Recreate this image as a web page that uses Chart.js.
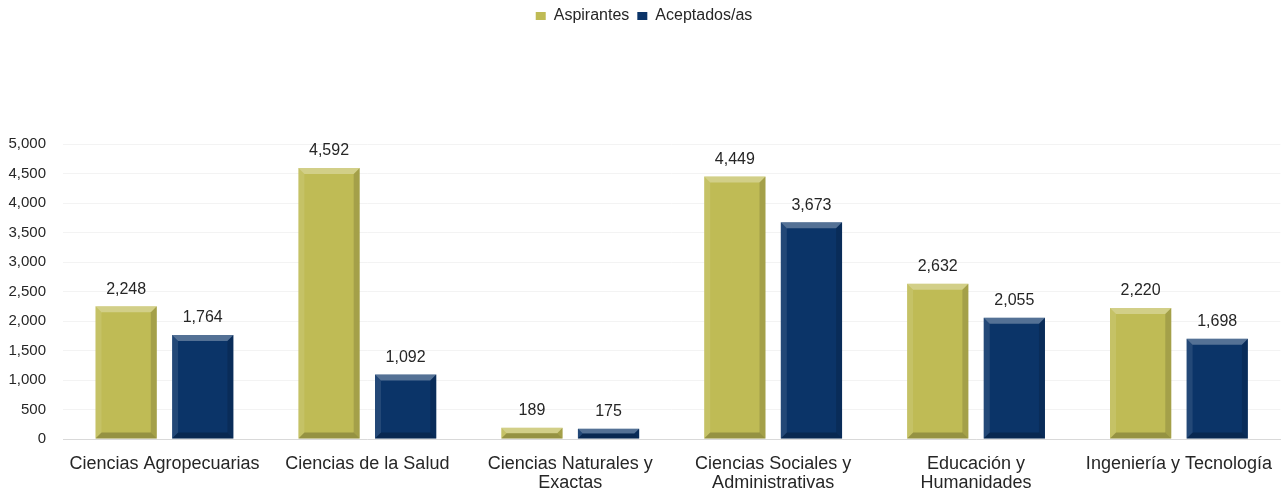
<!DOCTYPE html>
<html>
<head>
<meta charset="utf-8">
<script src="https://cdn.jsdelivr.net/npm/chart.js@4"></script>
<style>
  html, body { margin: 0; padding: 0; background: #fff; }
  #wrap { width: 1288px; height: 493px; }
</style>
</head>
<body>
<div id="wrap"><canvas id="grafica"></canvas></div>
<script>
// Datos de la gráfica
const categorias = [
    'Ciencias Agropecuarias',
    'Ciencias de la Salud',
    ['Ciencias Naturales y', 'Exactas'],
    ['Ciencias Sociales y', 'Administrativas'],
    ['Educación y', 'Humanidades'],
    'Ingeniería y Tecnología'
];
const aspirantes = [2248, 4592, 189, 4449, 2632, 2220];
const aceptados = [1764, 1092, 175, 3673, 2055, 1698];
const ticksY = [0, 500, 1000, 1500, 2000, 2500, 3000, 3500, 4000, 4500, 5000];

const colores = {
    aspirantes: '#bfbb55',
    aceptados: '#0b3468'
};

const fuente = "'Liberation Sans', Arial, sans-serif";
const fmt = new Intl.NumberFormat('en-US');

// Efecto de bisel sobre cada barra
const biselPlugin = {
    id: 'bisel',
    afterDatasetsDraw(chart) {
        const ctx = chart.ctx;
        chart.data.datasets.forEach((ds, i) => {
            const meta = chart.getDatasetMeta(i);
            meta.data.forEach(bar => {
                const l = bar.x - bar.width / 2, r = bar.x + bar.width / 2;
                const t = bar.y, b = bar.base;
                const d = Math.min(6, (b - t) / 2);
                ctx.save();
                // arriba claro
                ctx.fillStyle = 'rgba(255,255,255,0.3)';
                ctx.beginPath();
                ctx.moveTo(l, t); ctx.lineTo(r, t); ctx.lineTo(r - d, t + d); ctx.lineTo(l + d, t + d);
                ctx.fill();
                // izquierda
                ctx.fillStyle = 'rgba(255,255,255,0.1)';
                ctx.beginPath();
                ctx.moveTo(l, t); ctx.lineTo(l + d, t + d); ctx.lineTo(l + d, b - d); ctx.lineTo(l, b);
                ctx.fill();
                // derecha oscura
                ctx.fillStyle = 'rgba(0,0,0,0.14)';
                ctx.beginPath();
                ctx.moveTo(r, t); ctx.lineTo(r - d, t + d); ctx.lineTo(r - d, b - d); ctx.lineTo(r, b);
                ctx.fill();
                // abajo oscura
                ctx.fillStyle = 'rgba(0,0,0,0.22)';
                ctx.beginPath();
                ctx.moveTo(l, b); ctx.lineTo(r, b); ctx.lineTo(r - d, b - d); ctx.lineTo(l + d, b - d);
                ctx.fill();
                ctx.restore();
            });
        });
    }
};

// Etiquetas de valor encima de las barras
const etiquetasPlugin = {
    id: 'etiquetas',
    afterDatasetsDraw(chart) {
        const ctx = chart.ctx;
        ctx.save();
        ctx.font = '16px ' + fuente;
        ctx.fillStyle = '#262626';
        ctx.textAlign = 'center';
        ctx.textBaseline = 'middle';
        chart.data.datasets.forEach((ds, i) => {
            chart.getDatasetMeta(i).data.forEach((bar, j) => {
                ctx.fillText(fmt.format(ds.data[j]), bar.x, bar.y - 17);
            });
        });
        ctx.restore();
    }
};

// Alto fijo de la leyenda para dejar el hueco de arriba
const espacioLeyenda = {
    id: 'espacioLeyenda',
    beforeInit(chart) {
        const fitOriginal = chart.legend.fit;
        chart.legend.fit = function () {
            fitOriginal.call(this);
            this.height = 144;
        };
    }
};

new Chart(document.getElementById('grafica'), {
    type: 'bar',
    data: {
        labels: categorias,
        datasets: [
            {
                label: 'Aspirantes',
                data: aspirantes,
                backgroundColor: colores.aspirantes,
                borderWidth: 0,
                categoryPercentage: 0.755,
                barPercentage: 0.8
            },
            {
                label: 'Aceptados/as',
                data: aceptados,
                backgroundColor: colores.aceptados,
                borderWidth: 0,
                categoryPercentage: 0.755,
                barPercentage: 0.8
            }
        ]
    },
    options: {
        responsive: true,
        maintainAspectRatio: false,
        animation: false,
        layout: { padding: { top: 0, right: 0, bottom: 0, left: 0 } },
        plugins: {
            legend: {
                position: 'top',
                labels: {
                    font: { family: fuente, size: 16 },
                    color: '#262626',
                    boxWidth: 10,
                    boxHeight: 8,
                    padding: 8
                }
            },
            tooltip: { enabled: false }
        },
        scales: {
            x: {
                afterFit(scale) {
                    scale.height = 54;
                },
                grid: { display: false, drawTicks: false },
                border: { color: '#d9d9d9' },
                ticks: {
                    font: { family: fuente, size: 18, lineHeight: 1.05 },
                    color: '#262626',
                    maxRotation: 0,
                    autoSkip: false,
                    padding: 16
                }
            },
            y: {
                min: 0,
                max: 5000,
                afterBuildTicks(scale) {
                    scale.ticks = ticksY.map(v => ({ value: v }));
                },
                afterFit(scale) {
                    scale.width = 63;
                },
                grid: { color: '#f3f3f3', drawTicks: false },
                border: { display: false },
                ticks: {
                    font: { family: fuente, size: 15 },
                    color: '#262626',
                    padding: 17
                }
            }
        }
    },
    plugins: [biselPlugin, etiquetasPlugin, espacioLeyenda]
});
</script>
</body>
</html>
